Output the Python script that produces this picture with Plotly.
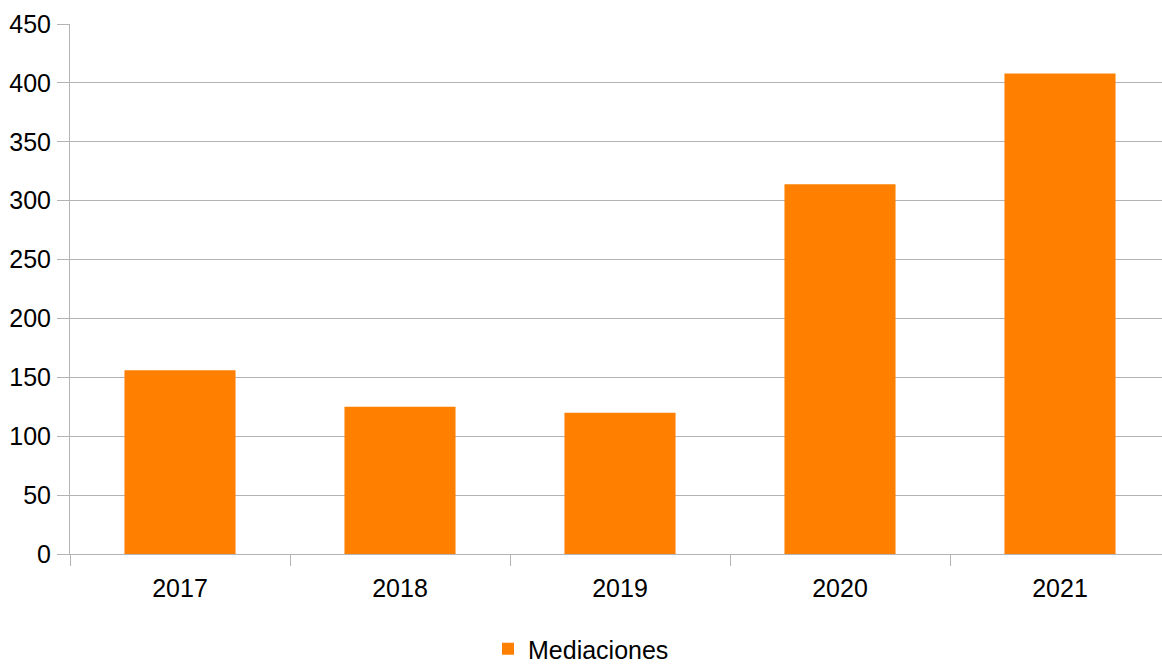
import plotly.graph_objects as go

years = ["2017", "2018", "2019", "2020", "2021"]
mediaciones = [156, 125, 120, 314, 408]
series_name = "Mediaciones"
y_ticks = [0, 50, 100, 150, 200, 250, 300, 350, 400, 450]

W, H = 1162, 664
fig = go.Figure()
fig.add_trace(go.Bar(x=years, y=mediaciones, name=series_name,
                     marker=dict(color="#ff8000", line=dict(width=0)),
                     width=0.505))

font = dict(family="Liberation Sans, Arial, sans-serif", size=25, color="#000000")
fig.update_layout(
    width=W, height=H,
    margin=dict(l=70, r=0, t=24, b=110, pad=0),
    paper_bgcolor="white", plot_bgcolor="white",
    font=font,
    showlegend=True,
    legend=dict(orientation="h", xref="container", yref="container",
                x=488 / W, xanchor="left", y=(664 - 649) / H, yanchor="middle",
                font=font, itemwidth=30, tracegroupgap=0),
    bargap=0.495,
)
fig.update_xaxes(type="category", range=[-0.5, 4.5 - 8 / 220],
                 showline=True, linecolor="#b3b3b3", linewidth=1,
                 ticks="outside", tickson="boundaries", ticklen=11,
                 tickcolor="#b3b3b3", tickwidth=1, showgrid=False,
                 tickfont=font, ticklabelstandoff=12)
fig.update_yaxes(range=[0, 450], tickvals=y_ticks,
                 showline=True, linecolor="#b3b3b3", linewidth=1,
                 ticks="outside", ticklen=12, tickcolor="#b3b3b3", tickwidth=1,
                 showgrid=True, gridcolor="#b3b3b3", gridwidth=1,
                 zeroline=False, tickfont=font, ticklabelstandoff=1)

fig.write_html("out.html", config={"displayModeBar": False},
               post_script="document.body.style.margin='0';document.body.style.overflow='hidden';")
